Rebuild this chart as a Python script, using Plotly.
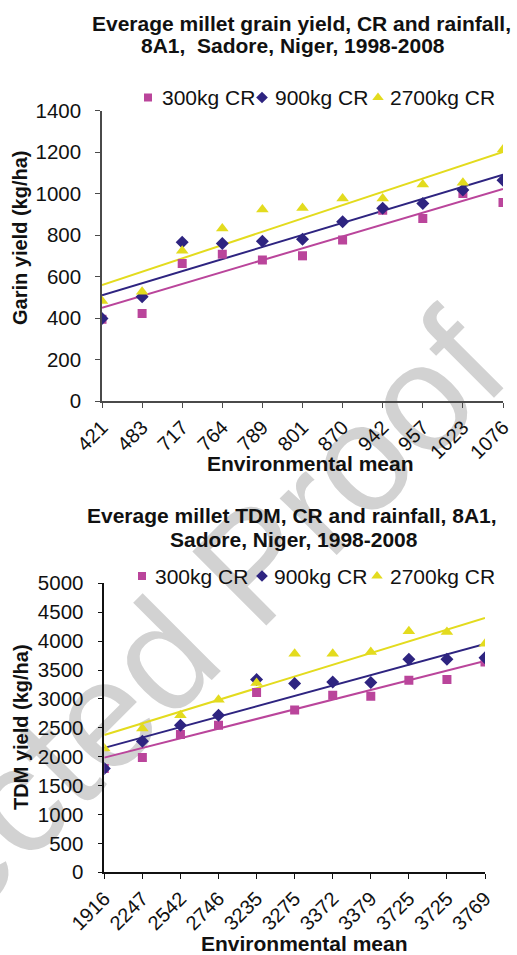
import numpy as np
import plotly.graph_objects as go

W, H = 517, 955
FONT = "Liberation Sans, Arial, sans-serif"

# Grain yield panel
grain_env = ["421", "483", "717", "764", "789", "801", "870", "942", "957", "1023", "1076"]
grain_300 = [394, 422, 663, 708, 680, 700, 776, 920, 880, 1001, 957]
grain_900 = [398, 503, 765, 760, 771, 780, 864, 929, 953, 1017, 1065]
grain_2700 = [482, 527, 724, 832, 924, 931, 977, 977, 1044, 1052, 1213]
grain_ticks = [0, 200, 400, 600, 800, 1000, 1200, 1400]

# TDM panel
tdm_env = ["1916", "2247", "2542", "2746", "3235", "3275", "3372", "3379", "3725", "3725", "3769"]
tdm_300 = [1794, 1984, 2382, 2543, 3109, 2810, 3062, 3045, 3322, 3334, 3638]
tdm_900 = [1794, 2266, 2543, 2716, 3334, 3265, 3293, 3282, 3685, 3685, 3714]
tdm_2700 = [2140, 2486, 2716, 2987, 3275, 3783, 3783, 3811, 4169, 4157, 3956]
tdm_ticks = [0, 500, 1000, 1500, 2000, 2500, 3000, 3500, 4000, 4500, 5000]

series_names = ["300kg CR", "900kg CR", "2700kg CR"]
colors = ["#BA459B", "#2E2480", "#E3DB1E"]
symbols = ["square", "diamond", "triangle-up"]
sizes = [9, 10, 11]
key_sizes = [8, 9, 10]

# legend rows: (symbol centre x, text left x) per series, and the row's y, in pixels
legend_rows = [
    ([148, 262, 378], [160, 273, 388], 97.5),
    ([142, 262, 377], [153, 272, 388], 576),
]


def px_x(p):
    return p / W


def px_y(p):
    return 1 - p / H


fig = go.Figure()


def add_panel(env, data, xa, ya):
    idx = np.arange(len(env))
    # linear trend line for each series, fitted on the category index
    for vals, col in zip(data, colors):
        slope, icpt = np.polyfit(idx, vals, 1)
        ends = np.array([idx[0], idx[-1]])
        fig.add_trace(go.Scatter(
            x=ends, y=icpt + slope * ends, mode="lines",
            line=dict(color=col, width=2), showlegend=False,
            hoverinfo="skip", xaxis=xa, yaxis=ya))
    for name, vals, col, sym, sz in zip(series_names, data, colors, symbols, sizes):
        fig.add_trace(go.Scatter(
            x=idx, y=vals, mode="markers", name=name, showlegend=False,
            marker=dict(symbol=sym, size=sz, color=col, line=dict(width=0)),
            xaxis=xa, yaxis=ya))


add_panel(grain_env, [grain_300, grain_900, grain_2700], "x", "y")
add_panel(tdm_env, [tdm_300, tdm_900, tdm_2700], "x2", "y2")

# legend keys on a page-sized overlay axis (pixel units)
for sym_x, txt_x, row_y in legend_rows:
    for name, col, sym, ks, sx, tx in zip(series_names, colors, symbols, key_sizes,
                                          sym_x, txt_x):
        fig.add_trace(go.Scatter(
            x=[sx], y=[row_y], mode="markers", showlegend=False, hoverinfo="skip",
            marker=dict(symbol=sym, size=ks, color=col, line=dict(width=0)),
            xaxis="x3", yaxis="y3"))
        fig.add_annotation(text=name, x=px_x(tx), y=px_y(row_y), xref="paper",
                           yref="paper", xanchor="left", yanchor="middle",
                           showarrow=False,
                           font=dict(family=FONT, size=21, color="#111"))

axis_common = dict(showgrid=False, zeroline=False, showline=True, ticks="outside",
                   ticklen=5, fixedrange=True, automargin=False)
xtick_font = dict(family=FONT, size=20, color="#111")
ytick_font = dict(family=FONT, size=20.5, color="#111")

fig.update_layout(
    width=W, height=H,
    margin=dict(l=0, r=0, t=0, b=0, autoexpand=False),
    paper_bgcolor="white",
    plot_bgcolor="rgba(0,0,0,0)",
    showlegend=False,
    xaxis=dict(domain=[px_x(102), px_x(503)], anchor="y", range=[0, 10],
               tickmode="array", tickvals=list(range(len(grain_env))), ticktext=grain_env,
               tickangle=-45, tickfont=xtick_font,
               linecolor="#4a4a4a", tickcolor="#4a4a4a", linewidth=1.5, **axis_common),
    yaxis=dict(domain=[px_y(401), px_y(110.7)], anchor="x", range=[0, 1400],
               tickmode="array", tickvals=grain_ticks, tickfont=ytick_font,
               linecolor="#4a4a4a", tickcolor="#4a4a4a", linewidth=1.5,
               ticklabelstandoff=10, **axis_common),
    xaxis2=dict(domain=[px_x(104.3), px_x(485)], anchor="y2", range=[0, 10],
                tickmode="array", tickvals=list(range(len(tdm_env))), ticktext=tdm_env,
                tickangle=-45, tickfont=xtick_font,
                linecolor="#111", tickcolor="#111", linewidth=1.5, **axis_common),
    yaxis2=dict(domain=[px_y(872.3), px_y(583.3)], anchor="x2", range=[0, 5000],
                tickmode="array", tickvals=tdm_ticks, tickfont=ytick_font,
                linecolor="#111", tickcolor="#111", linewidth=1.5,
                ticklabelstandoff=10, **axis_common),
    xaxis3=dict(domain=[0, 1], anchor="y3", range=[0, W], visible=False,
                fixedrange=True),
    yaxis3=dict(domain=[0, 1], anchor="x3", range=[H, 0], visible=False,
                fixedrange=True),
)

texts = [
    ("<b>Everage millet grain yield, CR and rainfall,</b>", 301, 23, 0, 21),
    ("<b>8A1,  Sadore, Niger, 1998-2008</b>", 293, 46, 0, 21),
    ("<b>Everage millet TDM, CR and rainfall, 8A1,</b>", 292, 515, 0, 21),
    ("<b>Sadore, Niger, 1998-2008</b>", 294, 539, 0, 21),
    ("<b>Environmental mean</b>", 310, 463, 0, 21),
    ("<b>Environmental mean</b>", 304, 943, 0, 21),
    ("<b>Garin yield (kg/ha)</b>", 20, 238, -90, 20),
    ("<b>TDM yield (kg/ha)</b>", 21, 727, -90, 20),
]
for txt, cx, cy, ang, fs in texts:
    fig.add_annotation(text=txt, x=px_x(cx), y=px_y(cy), xref="paper", yref="paper",
                       xanchor="center", yanchor="middle", showarrow=False,
                       textangle=ang, font=dict(family=FONT, size=fs, color="#111"))

# Diagonal proof stamp behind the charts
fig.add_shape(type="rect", xref="paper", yref="paper",
              x0=px_x(21), x1=px_x(41), y0=px_y(776), y1=px_y(756),
              line=dict(width=0), fillcolor="rgba(0,0,0,0)", layer="below",
              label=dict(text="Uncorrected Proof", textangle=-45,
                         textposition="middle center",
                         font=dict(family=FONT, size=152, color="#d2d2d2")))

fig.write_html("out.html")
